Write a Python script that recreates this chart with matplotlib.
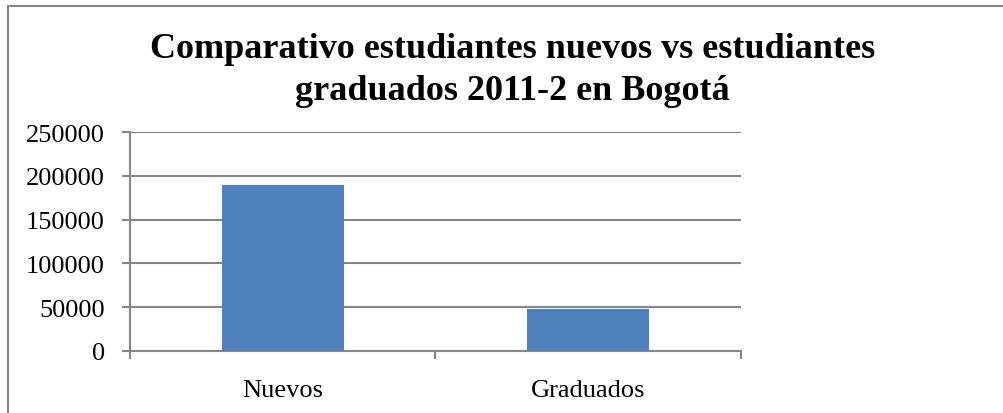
import matplotlib
matplotlib.use("Agg")
import matplotlib.pyplot as plt
from matplotlib.patches import Rectangle

categories = ["Nuevos", "Graduados"]
values = [190000, 48500]
yticks = [0, 50000, 100000, 150000, 200000, 250000]
title_lines = ["Comparativo estudiantes nuevos vs estudiantes",
               "graduados 2011-2 en Bogotá"]

W, H = 1004, 414
fig = plt.figure(figsize=(W / 100, H / 100), dpi=100)
plt.rcParams['font.family'] = ['Liberation Serif', 'DejaVu Serif']

gray = "#868686"
ax = fig.add_axes([130 / W, 1 - 352 / H, (741 - 130) / W, (352 - 133) / H])
x = list(range(len(categories)))
ax.bar(x, values, width=0.4, color="#4F81BD", zorder=3)
ax.set_xlim(-0.5, len(categories) - 0.5)
ax.set_ylim(0, 250000)
ax.set_yticks(yticks)
ax.set_yticklabels([str(v) for v in yticks], fontsize=19)
ax.yaxis.grid(True, color=gray, linewidth=1.5, zorder=0)
ax.set_axisbelow(True)
ax.set_xticks([i - 0.5 for i in range(len(categories) + 1)])
ax.set_xticklabels([])
ax.set_xticks(x, minor=True)
ax.set_xticklabels(categories, minor=True, fontsize=19)
ax.tick_params(axis="x", which="minor", length=0, pad=20)
ax.tick_params(axis="x", which="major", length=6, color=gray, width=1.5, direction="out")
ax.tick_params(axis="y", length=6, color=gray, width=1.5, direction="out", pad=12)
for s in ["top", "right"]:
    ax.spines[s].set_visible(False)
for s in ["left", "bottom"]:
    ax.spines[s].set_color(gray)
    ax.spines[s].set_linewidth(1.5)

for line, yb in zip(title_lines, [58, 100]):
    fig.text(512.5 / W, 1 - yb / H, line, ha="center", va="baseline", fontsize=26,
             fontweight="bold")

fig.patches.append(Rectangle((8 / W, -0.1), 1.2, 1 - 7 / H + 0.1, transform=fig.transFigure,
                             fill=False, edgecolor=gray, linewidth=1.5))

fig.savefig("out.png", dpi=100)
